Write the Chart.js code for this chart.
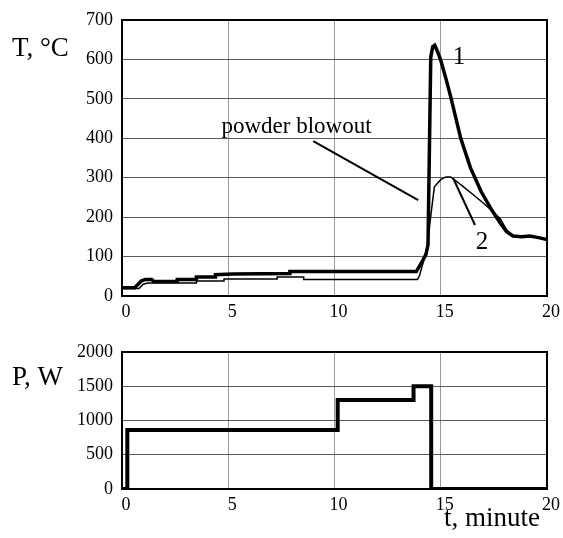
<!DOCTYPE html>
<html>
<head>
<meta charset="utf-8">
<script src="https://cdn.jsdelivr.net/npm/chart.js@4.4.1/dist/chart.umd.min.js"></script>
<style>
    html, body { margin: 0; padding: 0; background: #fff; }
    #wrap { position: relative; width: 563px; height: 538px; }
    #tempBox { position: absolute; left: 0; top: 0; width: 563px; height: 330px; }
    #powerBox { position: absolute; left: 0; top: 330px; width: 563px; height: 208px; }
</style>
</head>
<body>
<div id="wrap">
    <div id="tempBox"><canvas id="tempChart"></canvas></div>
    <div id="powerBox"><canvas id="powerChart"></canvas></div>
</div>
<script>
// curve 1 (thick) - temperature, minutes / °C
const time1 = [0, 0.6, 0.9, 1.1, 1.4, 1.5, 2.6, 2.6, 3.5, 3.5, 4.4, 4.4, 5.2, 7.9, 7.9, 13.85,
    14.1, 14.3, 14.4, 14.53, 14.62, 14.72, 14.85, 15.0, 15.25, 15.47, 15.94, 16.4, 16.9, 17.4, 17.8,
    18.1, 18.4, 18.8, 19.2, 19.6, 20];
const temp1 = [21, 21, 38, 42, 42, 37, 37, 42, 42, 48, 48, 54, 56, 57, 62, 62,
    85, 105, 130, 606, 632, 636, 620, 598, 550, 505, 400, 325, 265, 218, 185,
    163, 152, 150, 152, 148, 143];

// curve 2 (thin)
const time2 = [0, 0.8, 1.0, 1.2, 3.5, 3.5, 4.8, 4.8, 7.3, 7.3, 8.55, 8.55, 13.9,
    14.0, 14.2, 14.37, 14.5, 14.7, 15.0, 15.24, 15.47, 16.0, 16.5, 17.0, 17.36, 17.8,
    18.1, 18.4, 18.8, 19.2, 19.6, 20];
const temp2 = [19, 19, 30, 33, 33, 38, 38, 43, 43, 48, 48, 42, 42,
    52, 90, 126, 190, 277, 295, 302, 302, 280, 258, 236, 218, 196,
    168, 152, 150, 152, 148, 143];

// heater power, minutes / W
const powerTime = [0, 0.25, 0.25, 10.15, 10.15, 13.72, 13.72, 14.55, 14.55, 20];
const powerValues = [0, 0, 860, 860, 1300, 1300, 1500, 1500, 0, 0];

const timeTicks = [0, 5, 10, 15, 20];

const serif = "'Liberation Serif', 'Times New Roman', serif";

function toPoints(xs, ys) {
    return xs.map((x, i) => ({ x: x, y: ys[i] }));
}

// draws frame, inside labels and leader lines, and the axis captions
const notesPlugin = {
    id: 'notes',
    afterDatasetsDraw(chart, args, opts) {
        const ctx = chart.ctx;
        const area = chart.chartArea;
        const xs = chart.scales.x;
        const ys = chart.scales.y;
        ctx.save();
        ctx.strokeStyle = '#000';
        ctx.lineWidth = 2;
        ctx.strokeRect(area.left, area.top, area.right - area.left, area.bottom - area.top);

        ctx.lineWidth = 2;
        (opts.lines || []).forEach(l => {
            ctx.beginPath();
            ctx.moveTo(xs.getPixelForValue(l.x1), ys.getPixelForValue(l.y1));
            ctx.lineTo(xs.getPixelForValue(l.x2), ys.getPixelForValue(l.y2));
            ctx.stroke();
        });

        ctx.fillStyle = '#000';
        (opts.labels || []).forEach(t => {
            ctx.font = t.size + 'px ' + serif;
            ctx.textAlign = t.align || 'left';
            ctx.textBaseline = t.baseline || 'middle';
            ctx.fillText(t.text, xs.getPixelForValue(t.x), ys.getPixelForValue(t.y));
        });

        (opts.captions || []).forEach(t => {
            ctx.font = t.size + 'px ' + serif;
            ctx.textAlign = 'left';
            ctx.textBaseline = 'middle';
            ctx.fillText(t.text, t.left, t.top);
        });
        ctx.restore();
    }
};

function makeScales(yMax, yStep, xHeight) {
    return {
        x: {
            type: 'linear',
            min: 0,
            max: 20,
            afterBuildTicks: s => { s.ticks = timeTicks.map(v => ({ value: v })); },
            afterFit: s => { s.height = xHeight; },
            grid: { color: '#9a9a9a', lineWidth: 1, drawTicks: false },
            border: { display: false },
            ticks: {
                color: '#000', font: { family: serif, size: 18 }, padding: 5, labelOffset: 4, maxRotation: 0,
                callback: v => String(v)
            }
        },
        y: {
            min: 0,
            max: yMax,
            ticks: {
                stepSize: yStep, color: '#000', font: { family: serif, size: 18 }, padding: 9,
                callback: v => String(v)
            },
            afterFit: s => { s.width = 122; },
            grid: { color: '#5a5a5a', lineWidth: 1, drawTicks: false },
            border: { display: false }
        }
    };
}

new Chart(document.getElementById('tempChart'), {
    type: 'line',
    data: {
        datasets: [
            {
                data: toPoints(time2, temp2),
                borderColor: '#000',
                borderWidth: 1.5,
                pointRadius: 0,
                tension: 0
            },
            {
                data: toPoints(time1, temp1),
                borderColor: '#000',
                borderWidth: 3.5,
                pointRadius: 0,
                tension: 0
            }
        ]
    },
    options: {
        responsive: true,
        maintainAspectRatio: false,
        animation: false,
        layout: { padding: { top: 20, right: 16, left: 0, bottom: 0 } },
        scales: makeScales(700, 100, 34),
        plugins: {
            legend: { display: false },
            tooltip: { enabled: false },
            notes: {
                lines: [
                    { x1: 9.0, y1: 393, x2: 13.94, y2: 243 },
                    { x1: 15.59, y1: 298, x2: 16.61, y2: 180 }
                ],
                labels: [
                    { text: 'powder blowout', x: 4.68, y: 413, size: 23, baseline: 'alphabetic' },
                    { text: '1', x: 15.86, y: 606, size: 25, align: 'center' },
                    { text: '2', x: 16.94, y: 137, size: 25, align: 'center' }
                ],
                captions: [
                    { text: 'T, °C', left: 12, top: 49, size: 27 }
                ]
            }
        }
    },
    plugins: [notesPlugin]
});

new Chart(document.getElementById('powerChart'), {
    type: 'line',
    data: {
        datasets: [{
            data: toPoints(powerTime, powerValues),
            borderColor: '#000',
            borderWidth: 4,
            pointRadius: 0,
            tension: 0
        }]
    },
    options: {
        responsive: true,
        maintainAspectRatio: false,
        animation: false,
        layout: { padding: { top: 22, right: 16, left: 0, bottom: 0 } },
        scales: makeScales(2000, 500, 49),
        plugins: {
            legend: { display: false },
            tooltip: { enabled: false },
            notes: {
                captions: [
                    { text: 'P, W', left: 12, top: 48, size: 27 },
                    { text: 't, minute', left: 444, top: 189, size: 27 }
                ]
            }
        }
    },
    plugins: [notesPlugin]
});
</script>
</body>
</html>
